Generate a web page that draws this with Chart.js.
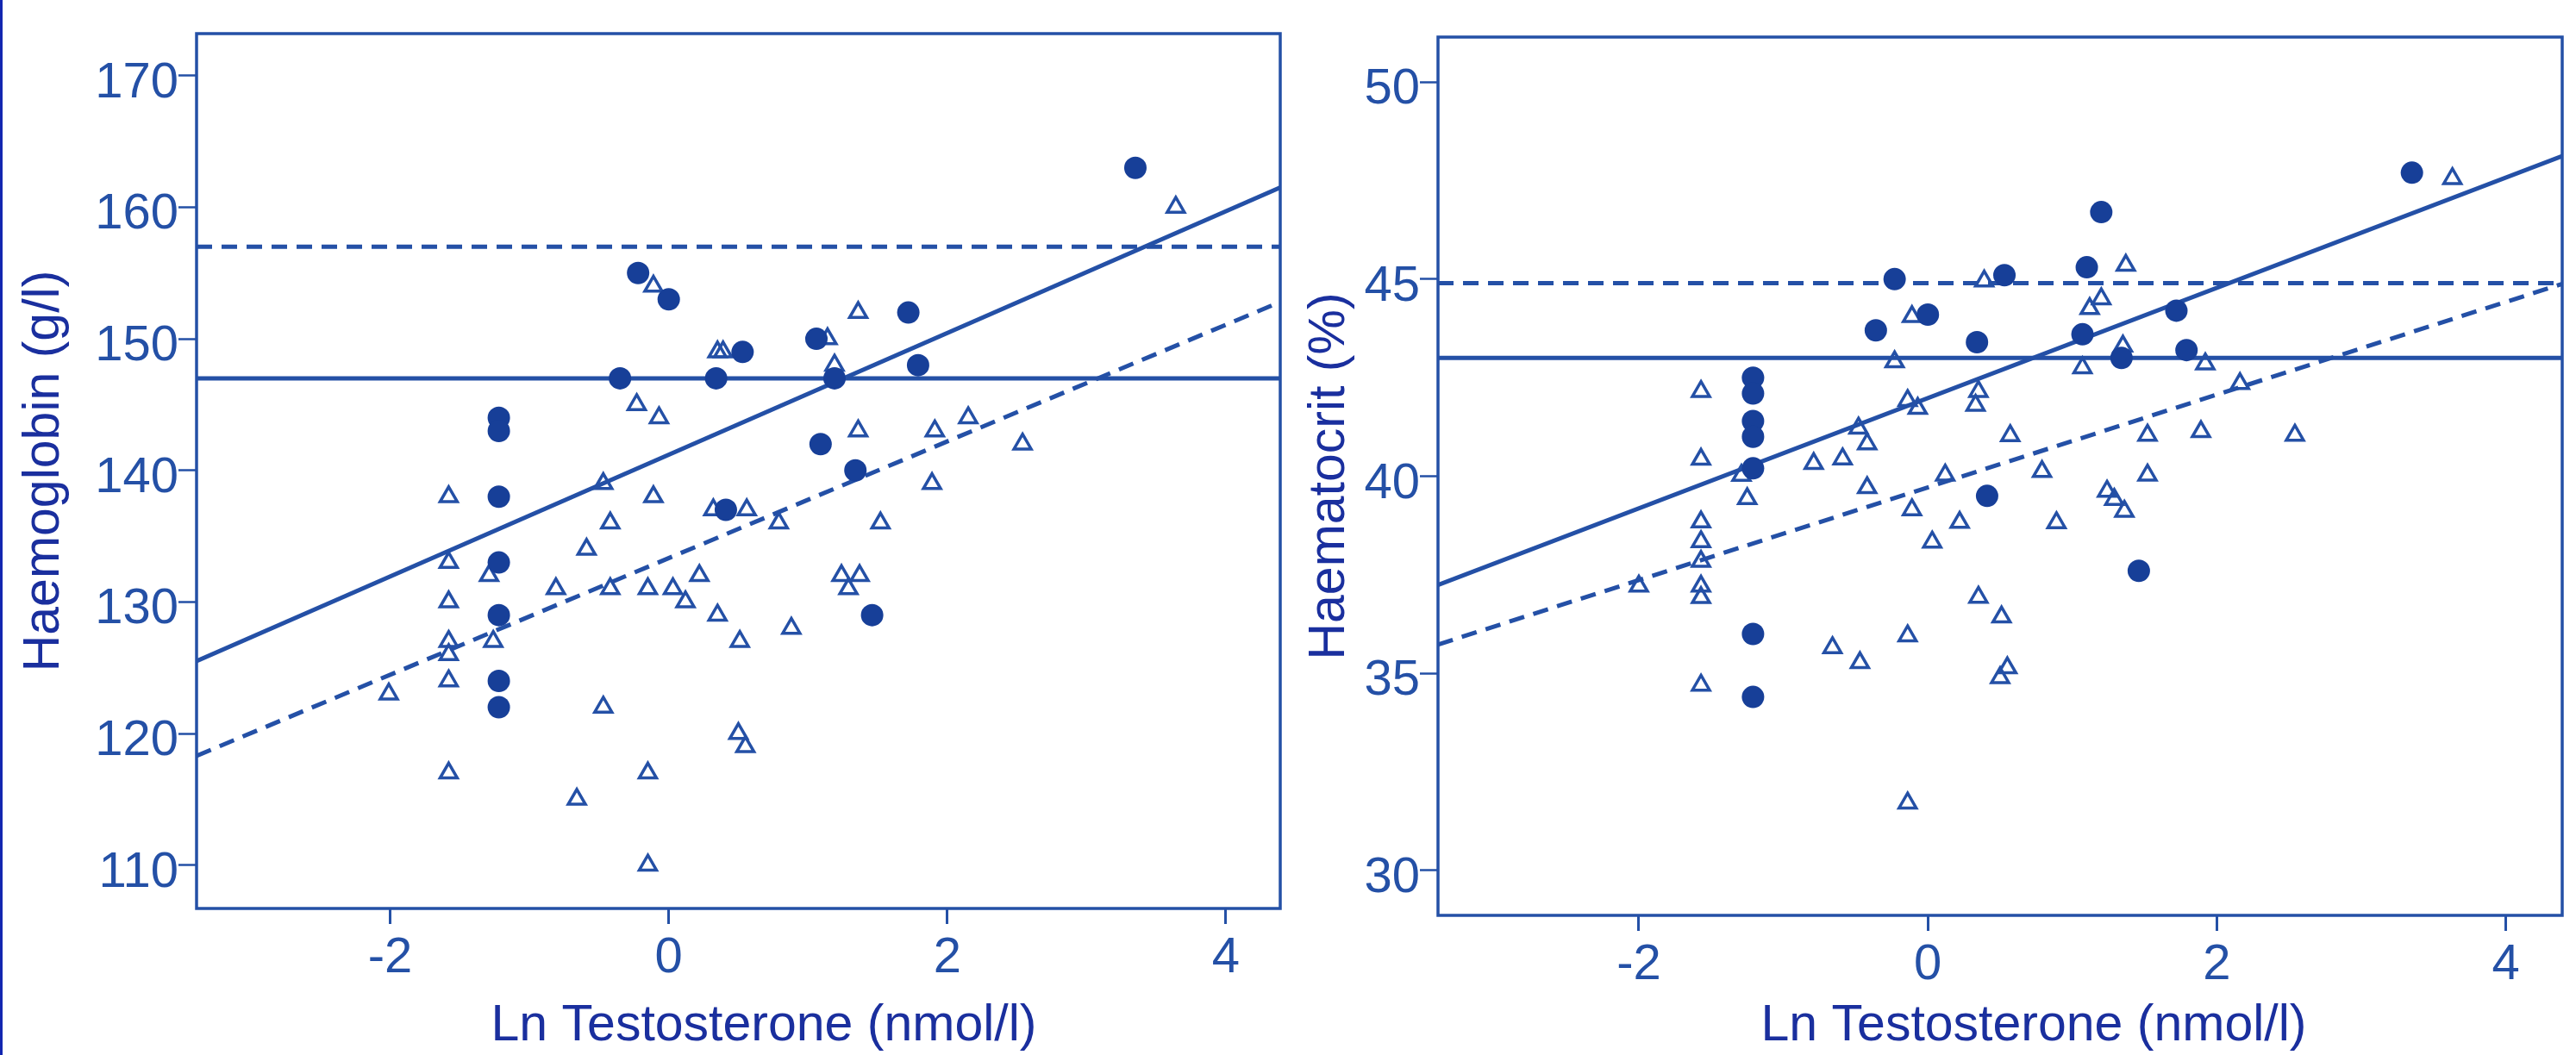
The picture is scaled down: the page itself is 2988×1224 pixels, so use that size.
<!DOCTYPE html>
<html><head><meta charset="utf-8">
<script src="https://cdn.jsdelivr.net/npm/chart.js@4"></script>
<style>
html,body{margin:0;padding:0;background:#fff;width:2988px;height:1224px;overflow:hidden}
#edge{position:absolute;left:0;top:0;width:3px;height:1224px;background:#1226b0}
canvas{position:absolute;top:0}
#c1{left:0}
#c2{left:1500px}
</style></head><body>
<div id="edge"></div>
<canvas id="c1" width="1500" height="1224"></canvas>
<canvas id="c2" width="1488" height="1224"></canvas>
<script>
// ---------- axes ----------
const xTickValues = [-2, 0, 2, 4];
const xRange = [-3.39, 4.39];
const hbTickValues = [110, 120, 130, 140, 150, 160, 170];
const hbRange = [106.7, 173.2];
const hctTickValues = [30, 35, 40, 45, 50];
const hctRange = [28.86, 51.14];

const xTitleText = 'Ln Testosterone (nmol/l)';
const hbTitleText = 'Haemoglobin (g/l)';
const hctTitleText = 'Haematocrit (%)';

// ---------- Haemoglobin panel ----------
const hbCircleX = [3.35, -0.22, 0.00, 0.53, 1.06, 1.72, 1.79, -0.35, 0.34, 1.19, -1.22, -1.22, -1.22, 1.09, 1.34, 0.41, -1.22, -1.22, 1.46, -1.22, -1.22];
const hbCircleY = [163, 155, 153, 149, 150, 152, 148, 147, 147, 147, 144, 143, 138, 142, 140, 137, 133, 129, 129, 124, 122];

const hbTriX = [3.64, -0.11, 0.35, 0.39, 1.14, 1.36, 1.19, -0.23, -0.07, 1.36, 1.91, 2.15, 2.54, -1.58, -0.47, -0.11, 1.89, -0.42, 0.32, 0.56, 0.79, 1.52, -0.59, -1.58, -1.29, 0.22, 1.24, 1.37, 1.29, -0.81, -0.42, -0.15, 0.03, 0.12, -1.58, 0.35, 0.88, -1.58, -1.26, 0.51, -1.58, -1.58, -2.01, -0.47, 0.50, 0.55, -1.58, -0.15, -0.66, -0.15];
const hbTriY = [160, 154, 149, 149, 150, 152, 148, 145, 144, 143, 143, 144, 142, 138, 139, 138, 139, 136, 137, 137, 136, 136, 134, 133, 132, 132, 132, 132, 131, 131, 131, 131, 131, 130, 130, 129, 128, 127, 127, 127, 126, 124, 123, 122, 120, 119, 117, 117, 115, 110];

const fitX = [-3.39, 4.39];
const hbSolidFit = [125.5, 161.5];
const hbDashedFit = [118.3, 152.8];
const hbSolidRef = 147;
const hbDashedRef = 157;

// ---------- Haematocrit panel ----------
const hctCircleX = [3.35, 1.20, -0.23, 0.53, 1.10, 0.00, -0.36, 0.34, 1.07, 1.72, 1.79, 1.34, -1.21, -1.21, -1.21, -1.21, -1.21, 0.41, 1.46, -1.21, -1.21];
const hctCircleY = [47.7, 46.7, 45.0, 45.1, 45.3, 44.1, 43.7, 43.4, 43.6, 44.2, 43.2, 43.0, 42.5, 42.1, 41.4, 41.0, 40.2, 39.5, 37.6, 36.0, 34.4];

const hctTriX = [3.63, 0.39, 1.37, 1.20, 1.12, -0.11, -0.23, 1.07, 1.35, 1.92, 2.16, -1.57, 0.35, 0.33, -0.14, -0.07, 0.57, 1.52, 1.89, 2.54, -0.48, -0.42, -0.59, -0.79, -1.57, -1.29, 0.12, 0.79, 1.52, -1.25, -0.42, 1.24, 1.29, 1.36, -0.11, 0.22, 0.89, 0.03, -1.57, -1.57, -1.57, -1.57, -1.57, -2.00, 0.35, 0.51, -0.14, -0.66, -0.47, 0.55, 0.50, -1.57, -0.14];
const hctTriY = [47.55, 44.95, 45.35, 44.5, 44.25, 44.05, 42.9, 42.75, 43.3, 42.85, 42.35, 42.15, 42.15, 41.8, 41.92, 41.72, 41.03, 41.04, 41.13, 41.04, 41.22, 40.82, 40.44, 40.32, 40.43, 40.02, 40.03, 40.12, 40.03, 39.43, 39.71, 39.62, 39.41, 39.11, 39.15, 38.83, 38.82, 38.33, 38.84, 38.34, 37.84, 37.21, 36.92, 37.21, 36.93, 36.43, 35.95, 35.65, 35.27, 35.14, 34.89, 34.7, 31.71];

const hctSolidFit = [37.24, 48.12];
const hctDashedFit = [35.73, 44.88];
const hctSolidRef = 43.0;
const hctDashedRef = 44.9;

// ---------- styling ----------
const LINE = '#2450a6';
const DOT = '#173f98';
const TITLE = '#1a2f9e';
const FONT = '"Liberation Sans", Arial, Helvetica, sans-serif';

const pts = (xs, ys) => xs.map((x, i) => ({x, y: ys[i]}));

const framePlugin = {
  id: 'frame',
  afterDraw(chart, args, o) {
    const {ctx, chartArea: a} = chart;
    ctx.save();
    ctx.strokeStyle = o.color;
    ctx.lineWidth = o.lineWidth;
    ctx.strokeRect(a.left, a.top, a.right - a.left, a.bottom - a.top);
    ctx.fillStyle = o.titleColor;
    ctx.font = o.titleFont;
    ctx.textAlign = 'center';
    ctx.textBaseline = 'alphabetic';
    ctx.fillText(o.xTitle, o.xTitleX, o.xTitleY);
    ctx.translate(o.yTitleX, (a.top + a.bottom) / 2);
    ctx.rotate(-Math.PI / 2);
    ctx.textBaseline = 'middle';
    ctx.fillText(o.yTitle, 0, 0);
    ctx.restore();
  }
};

function makePanel(canvasId, cfg) {
  const datasets = [
    {label: 'circles', data: pts(cfg.circX, cfg.circY), pointStyle: 'circle', pointRadius: 13,
     backgroundColor: DOT, borderColor: DOT, borderWidth: 0, showLine: false},
    {label: 'triangles', data: pts(cfg.triX, cfg.triY), pointStyle: 'triangle', pointRadius: 11.5,
     backgroundColor: 'rgba(255,255,255,0)', borderColor: LINE, borderWidth: 3.5, showLine: false},
    {label: 'fit solid', data: pts(fitX, cfg.solidFit), showLine: true, pointRadius: 0,
     borderColor: LINE, borderWidth: 5},
    {label: 'fit dashed', data: pts(fitX, cfg.dashedFit), showLine: true, pointRadius: 0,
     borderColor: LINE, borderWidth: 5, borderDash: [18, 11]},
    {label: 'ref solid', data: pts(fitX, [cfg.solidRef, cfg.solidRef]), showLine: true, pointRadius: 0,
     borderColor: LINE, borderWidth: 5},
    {label: 'ref dashed', data: pts(fitX, [cfg.dashedRef, cfg.dashedRef]), showLine: true, pointRadius: 0,
     borderColor: LINE, borderWidth: 5, borderDash: [18, 11]}
  ];
  return new Chart(document.getElementById(canvasId), {
    type: 'scatter',
    data: {datasets},
    plugins: [framePlugin],
    options: {
      responsive: false,
      animation: false,
      devicePixelRatio: 1,
      layout: {padding: cfg.padding},
      plugins: {
        legend: {display: false},
        tooltip: {enabled: false},
        frame: {
          color: LINE, lineWidth: 3.5, titleColor: TITLE, titleFont: '59px ' + FONT,
          xTitle: xTitleText, xTitleX: cfg.xTitleX, xTitleY: cfg.xTitleY,
          yTitle: cfg.yTitle, yTitleX: cfg.yTitleX
        }
      },
      scales: {
        x: {
          type: 'linear', min: xRange[0], max: xRange[1],
          afterBuildTicks: s => { s.ticks = xTickValues.map(v => ({value: v})); },
          afterFit: s => { s.height = cfg.xAxisHeight; },
          border: {display: false},
          grid: {drawOnChartArea: false, drawTicks: true, tickLength: 18, tickWidth: 3, tickColor: LINE},
          ticks: {color: LINE, font: {size: 58, family: FONT}, padding: 5, maxRotation: 0, autoSkip: false}
        },
        y: {
          type: 'linear', min: cfg.yRange[0], max: cfg.yRange[1],
          afterBuildTicks: s => { s.ticks = cfg.yTicks.map(v => ({value: v})); },
          afterFit: s => { s.width = cfg.yAxisWidth; },
          border: {display: false},
          grid: {drawOnChartArea: false, drawTicks: true, tickLength: 21, tickWidth: 2.5, tickColor: LINE},
          ticks: {color: LINE, font: {size: 58, family: FONT}, padding: 0, labelOffset: 9, autoSkip: false}
        }
      }
    }
  });
}

makePanel('c1', {
  circX: hbCircleX, circY: hbCircleY, triX: hbTriX, triY: hbTriY,
  solidFit: hbSolidFit, dashedFit: hbDashedFit, solidRef: hbSolidRef, dashedRef: hbDashedRef,
  yRange: hbRange, yTicks: hbTickValues, yTitle: hbTitleText,
  padding: {left: 0, top: 39, right: 6, bottom: 0},
  yAxisWidth: 228, xAxisHeight: 170,
  xTitleX: 886, xTitleY: 1207, yTitleX: 52
});

makePanel('c2', {
  circX: hctCircleX, circY: hctCircleY, triX: hctTriX, triY: hctTriY,
  solidFit: hctSolidFit, dashedFit: hctDashedFit, solidRef: hctSolidRef, dashedRef: hctDashedRef,
  yRange: hctRange, yTicks: hctTickValues, yTitle: hctTitleText,
  padding: {left: 0, top: 43, right: 16, bottom: 0},
  yAxisWidth: 168, xAxisHeight: 162,
  xTitleX: 859, xTitleY: 1207, yTitleX: 43
});
</script>
</body></html>
